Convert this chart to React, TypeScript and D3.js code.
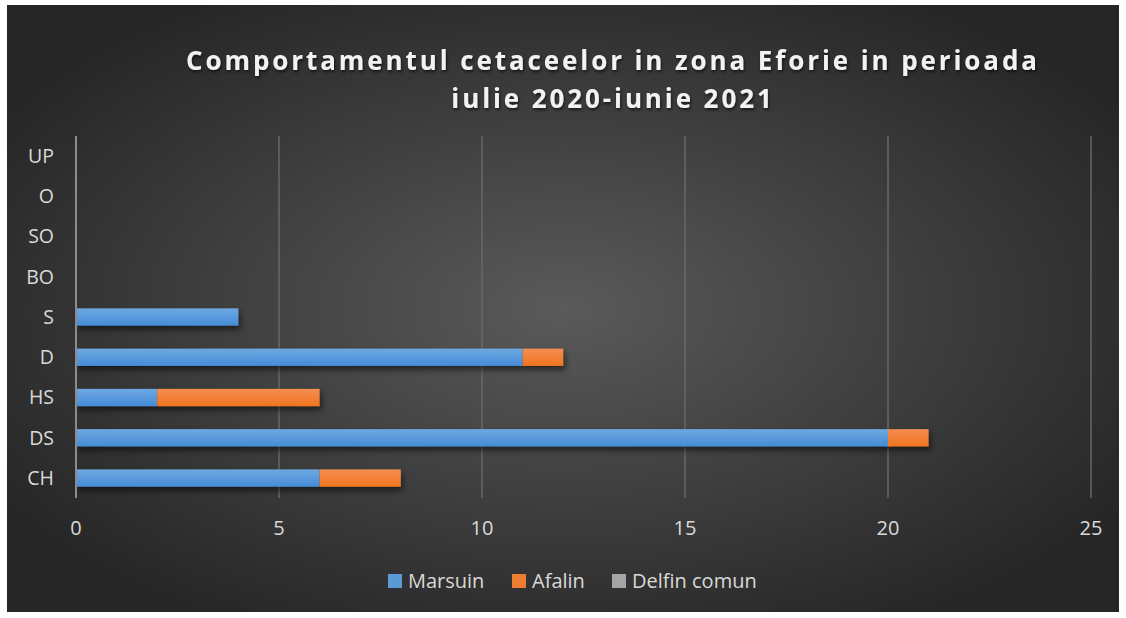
import { useEffect, useRef } from 'react';
import * as d3 from 'd3';

const categories = ['UP', 'O', 'SO', 'BO', 'S', 'D', 'HS', 'DS', 'CH'];
const marsuin = [0, 0, 0, 0, 4, 11, 2, 20, 6];
const afalin = [0, 0, 0, 0, 0, 1, 4, 1, 2];
const delfinComun = [0, 0, 0, 0, 0, 0, 0, 0, 0];
const seriesNames = ['Marsuin', 'Afalin', 'Delfin comun'];
const xTicks = [0, 5, 10, 15, 20, 25];

function App() {
  const ref = useRef<SVGSVGElement>(null);

  useEffect(() => {
    const svg = d3.select(ref.current);
    svg.selectAll('*').remove();

    const W = 1126, H = 618;
    const frame = { x: 7, y: 5, w: 1112, h: 607 };
    const plot = { left: 76, right: 1091, top: 136, bottom: 498 };
    const font = "'Open Sans', 'Liberation Sans', sans-serif";

    const defs = svg.append('defs');
    const bg = defs.append('radialGradient').attr('id', 'bg')
      .attr('cx', '50%').attr('cy', '50%').attr('r', '60%');
    bg.append('stop').attr('offset', '0%').attr('stop-color', '#5a5a5a');
    bg.append('stop').attr('offset', '100%').attr('stop-color', '#262626');

    const gBlue = defs.append('linearGradient').attr('id', 'gBlue')
      .attr('x1', 0).attr('y1', 0).attr('x2', 0).attr('y2', 1);
    gBlue.append('stop').attr('offset', '0%').attr('stop-color', '#6ea8e2');
    gBlue.append('stop').attr('offset', '100%').attr('stop-color', '#458cd6');
    const gOrange = defs.append('linearGradient').attr('id', 'gOrange')
      .attr('x1', 0).attr('y1', 0).attr('x2', 0).attr('y2', 1);
    gOrange.append('stop').attr('offset', '0%').attr('stop-color', '#f58d52');
    gOrange.append('stop').attr('offset', '100%').attr('stop-color', '#f07520');
    const gGray = defs.append('linearGradient').attr('id', 'gGray')
      .attr('x1', 0).attr('y1', 0).attr('x2', 0).attr('y2', 1);
    gGray.append('stop').attr('offset', '0%').attr('stop-color', '#b0b0b0');
    gGray.append('stop').attr('offset', '100%').attr('stop-color', '#959595');

    const shadow = defs.append('filter').attr('id', 'shadow')
      .attr('x', '-5%').attr('y', '-50%').attr('width', '110%').attr('height', '250%');
    shadow.append('feDropShadow').attr('dx', 2).attr('dy', 4).attr('stdDeviation', 3)
      .attr('flood-color', '#000').attr('flood-opacity', 0.55);

    const tShadow = defs.append('filter').attr('id', 'tshadow')
      .attr('x', '-5%').attr('y', '-30%').attr('width', '110%').attr('height', '160%');
    tShadow.append('feDropShadow').attr('dx', 1).attr('dy', 2).attr('stdDeviation', 1.5)
      .attr('flood-color', '#000').attr('flood-opacity', 0.6);

    svg.append('rect').attr('width', W).attr('height', H).attr('fill', '#fff');
    svg.append('rect').attr('x', frame.x).attr('y', frame.y)
      .attr('width', frame.w).attr('height', frame.h).attr('fill', 'url(#bg)');

    // title
    const title = svg.append('text').attr('text-anchor', 'middle')
      .attr('font-family', font).attr('font-weight', 700).attr('font-size', 26)
      .attr('letter-spacing', 2.9).attr('fill', '#f2f2f2').attr('filter', 'url(#tshadow)');
    title.append('tspan').attr('x', 613).attr('y', 70)
      .text('Comportamentul cetaceelor in zona Eforie in perioada');
    title.append('tspan').attr('x', 613).attr('y', 108).text('iulie 2020-iunie 2021');

    const x = d3.scaleLinear().domain([0, 25]).range([plot.left, plot.right]);
    const y = d3.scaleBand().domain(categories).range([plot.top, plot.bottom]).paddingInner(0.57).paddingOuter(0.28);

    // gridlines
    svg.append('g').selectAll('line').data(xTicks.slice(1)).enter().append('line')
      .attr('x1', d => x(d)).attr('x2', d => x(d))
      .attr('y1', plot.top).attr('y2', plot.bottom)
      .attr('stroke', '#6a6a6a').attr('stroke-opacity', 0.7).attr('stroke-width', 2);

    // x tick labels
    svg.append('g').selectAll('text').data(xTicks).enter().append('text')
      .attr('x', d => x(d)).attr('y', 535).attr('text-anchor', 'middle')
      .attr('font-family', font).attr('font-size', 20).attr('fill', '#d9d9d9')
      .text(d => String(d));

    // y labels
    svg.append('g').selectAll('text').data(categories).enter().append('text')
      .attr('x', 54).attr('y', d => (y(d) as number) + y.bandwidth() / 2)
      .attr('dy', '0.35em').attr('text-anchor', 'end')
      .attr('font-family', font).attr('font-size', 19.5).attr('fill', '#d9d9d9')
      .text(d => d);

    const table = categories.map((c, i) => ({
      cat: c, Marsuin: marsuin[i], Afalin: afalin[i], 'Delfin comun': delfinComun[i],
    }));
    const stacked = d3.stack<any>().keys(seriesNames)(table);
    const fills = ['url(#gBlue)', 'url(#gOrange)', 'url(#gGray)'];

    const bars = svg.append('g').attr('filter', 'url(#shadow)');
    stacked.forEach((s, si) => {
      bars.append('g').selectAll('rect').data(s.filter(d => d[1] - d[0] > 0)).enter().append('rect')
        .attr('x', d => x(d[0])).attr('width', d => x(d[1]) - x(d[0]))
        .attr('y', d => y(d.data.cat) as number).attr('height', y.bandwidth())
        .attr('fill', fills[si]);
    });

    // y axis line
    svg.append('line').attr('x1', x(0)).attr('x2', x(0))
      .attr('y1', plot.top).attr('y2', plot.bottom)
      .attr('stroke', '#8c8c8c').attr('stroke-width', 2);

    // legend
    const legendSolid = ['#5b9bd5', '#ed7d31', '#a5a5a5'];
    const legendX = [388, 512, 612];
    const lg = svg.append('g');
    seriesNames.forEach((n, i) => {
      lg.append('rect').attr('x', legendX[i]).attr('y', 574).attr('width', 14).attr('height', 14)
        .attr('fill', legendSolid[i]);
      lg.append('text').attr('x', legendX[i] + 20).attr('y', 588)
        .attr('font-family', font).attr('font-size', 20).attr('fill', '#d9d9d9').text(n);
    });
  }, []);

  return (
    <svg ref={ref} width={1126} height={618}
      style={{ position: 'absolute', left: 0, top: 0, display: 'block' }} />
  );
}

export default App;
